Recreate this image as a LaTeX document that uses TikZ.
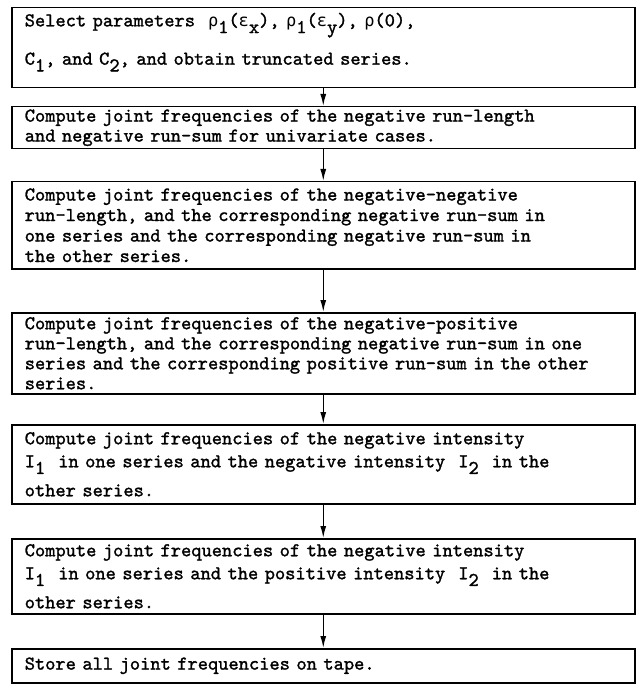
\documentclass[tikz,border=0pt]{standalone}
\usepackage{fontspec}
\usetikzlibrary{arrows.meta}
\newfontfamily\tw[FakeBold=1.4]{lmmono10-regular.otf}
\newfontfamily\gk[Scale=0.87]{DejaVu Sans Mono}
\newcommand{\lowr}[1]{\raisebox{-0.8ex}{#1}}
\newcommand{\grho}{{\gk ρ}}
\newcommand{\geps}{{\gk ɛ}}
\tikzset{
  box/.style={draw, line width=1.5pt, anchor=north west, minimum width=623pt,
    text width=597pt, inner xsep=13pt, inner ysep=0pt, align=left,
    font=\tw\fontsize{19.5}{20}\selectfont\frenchspacing},
  arr/.style={line width=1.4pt, -{Latex[length=12pt,width=6pt]}}
}
\begin{document}
\begin{tikzpicture}[x=1pt,y=-1pt]
\useasboundingbox (0,0) rectangle (636,684);
\node[box, minimum height=80pt] (b1) at (11,7)
  {Select parameters~~\grho\lowr{1}(\geps\lowr{x}), \grho\lowr{1}(\geps\lowr{y}), \grho(0),\\[14pt]
   C\lowr{1}, and C\lowr{2}, and obtain truncated series.\rule[-18pt]{0pt}{1pt}};
\node[box, minimum height=42pt] (b2) at (11,106)
  {Compute joint frequencies of the negative run-length\\
   and negative run-sum for univariate cases.};
\node[box, minimum height=87pt] (b3) at (11,181)
  {Compute joint frequencies of the negative-negative\\[0.5pt]
   run-length, and the corresponding negative run-sum in\\[0.5pt]
   one series and the corresponding negative run-sum in\\[0.5pt]
   the other series.};
\node[box, minimum height=81pt] (b4) at (11,312)
  {Compute joint frequencies of the negative-positive\\
   run-length, and the corresponding negative run-sum in one\\
   series and the corresponding positive run-sum in the other\\
   series.};
\node[box, minimum height=79pt] (b5) at (11,424)
  {Compute joint frequencies of the negative intensity\\[3pt]
   I\lowr{1}~~in one series and the negative intensity~~I\lowr{2}~~in the\\[9pt]
   other series.};
\node[box, minimum height=75pt] (b6) at (11,538)
  {Compute joint frequencies of the negative intensity\\[3pt]
   I\lowr{1}~~in one series and the positive intensity~~I\lowr{2}~~in the\\[9pt]
   other series.};
\node[box, minimum height=34pt] (b7) at (11,648)
  {Store all joint frequencies on tape.};
\draw[arr] (b1.south) -- (b2.north);
\draw[arr] (b2.south) -- (b3.north);
\draw[arr] (b3.south) -- (b4.north);
\draw[arr] (b4.south) -- (b5.north);
\draw[arr] (b5.south) -- (b6.north);
\draw[arr] (b6.south) -- (b7.north);
\end{tikzpicture}
\end{document}
